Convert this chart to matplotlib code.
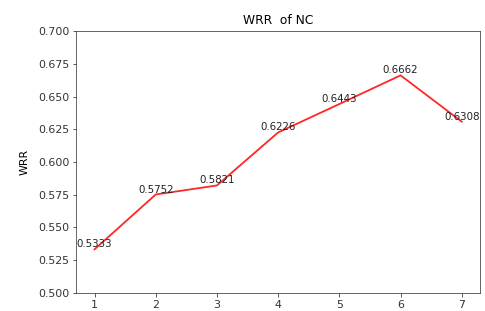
import matplotlib
matplotlib.use('Agg')
import matplotlib.pyplot as plt

# data
steps = [1, 2, 3, 4, 5, 6, 7]
wrr = [0.5333, 0.5752, 0.5821, 0.6226, 0.6443, 0.6662, 0.6308]

fig = plt.figure(figsize=(485 / 72, 311 / 72), dpi=72)
ax = fig.add_axes([0.157, 0.058, 0.833, 0.842])
ax.plot(steps, wrr, color='red', alpha=0.85, linewidth=1.8)
for x, y in zip(steps, wrr):
    ax.text(x, y, f"{y:.4f}", ha='center', va='bottom', fontsize=10.2, color='#222222')
ax.set_ylim(0.5, 0.7)
ax.tick_params(labelsize=11, colors='#333333')
ax.set_ylabel('WRR', fontsize=11, labelpad=8)
ax.set_title('WRR  of NC', fontsize=12.2, pad=7)
for s in ax.spines.values():
    s.set_color('#444444')
fig.savefig('out.png', dpi=72)
